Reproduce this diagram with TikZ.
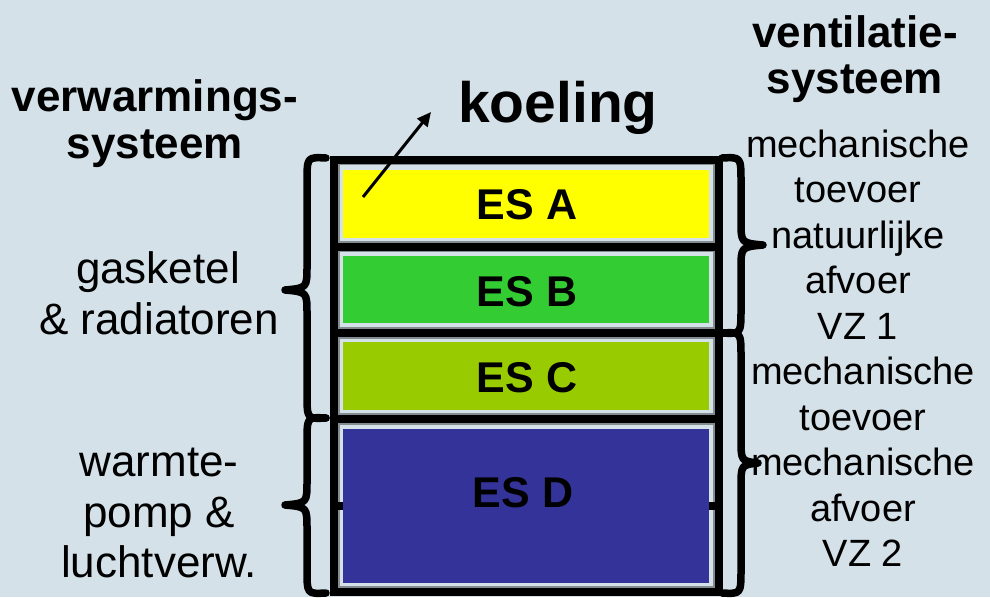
\documentclass[tikz,border=0pt]{standalone}
\usepackage{fontspec}
\setmainfont{Liberation Sans}
\usetikzlibrary{arrows.meta}
\definecolor{bgcol}{RGB}{213,225,232}
\definecolor{esa}{RGB}{255,255,0}
\definecolor{esb}{RGB}{51,204,51}
\definecolor{esc}{RGB}{153,204,0}
\definecolor{esd}{RGB}{51,51,153}
\definecolor{cellline}{RGB}{130,140,145}
\tikzset{
  head/.style={font=\fontsize{44}{48}\selectfont\bfseries, anchor=base, inner sep=0pt},
  lefttxt/.style={font=\fontsize{44}{50}\selectfont, anchor=base, inner sep=0pt},
  righttxt/.style={font=\fontsize{38}{45}\selectfont, anchor=base, inner sep=0pt},
  eslabel/.style={font=\fontsize{43}{46}\selectfont\bfseries, inner sep=0pt},
  cellbox/.style={draw=cellline, line width=1.2pt},
  frame/.style={line width=8pt},
  bracestyle/.style={line width=7.5pt, line cap=round, line join=round},
}
\begin{document}
\begin{tikzpicture}[x=1pt,y=-1pt]
\fill[bgcol] (0,0) rectangle (990,597);
\useasboundingbox (0,0) rectangle (990,597);

% cells (light margin with gray outline)
\draw[cellbox] (339,164) rectangle (714,242);
\draw[cellbox] (339,251) rectangle (714,328);
\draw[cellbox] (339,338) rectangle (714,414);
\draw[cellbox] (339,424) rectangle (714,587);

% frame and dividers
\draw[frame] (334,160) rectangle (719,592);
\draw[frame] (330,247) -- (723,247);
\draw[frame] (330,333) -- (723,333);
\draw[frame] (330,419) -- (723,419);
\draw[frame] (330,506) -- (723,506);

% coloured fills
\path[fill=esa] (343,170) rectangle (709,238);
\path[fill=esb] (343,256) rectangle (709,323);
\path[fill=esc] (343,342) rectangle (709,410);
\path[fill=esd] (343,429) rectangle (709,583);

\node[eslabel] (esA) at (527,205) {ES A};
\node[eslabel] (esB) at (527,292) {ES B};
\node[eslabel] (esC) at (527,378) {ES C};
\node[eslabel] (esD) at (523,493) {ES D};

% headers
\node[head] (h1) at (155,111) {verwarmings-};
\node[head] (h2) at (155,158) {systeem};
\node[head] (v1) at (855,47) {ventilatie-};
\node[head] (v2) at (855,93) {systeem};
\node[font=\fontsize{57}{60}\selectfont\bfseries, anchor=base, inner sep=0pt] (koel) at (558,122) {koeling};

% koeling arrow
\coordinate (ks) at (363,197);
\coordinate (ke) at (431,112);
\draw[line width=3pt, -{Triangle[length=14pt,width=13pt]}] (ks) -- (ke);

% left texts
\node[lefttxt] (l1) at (158,283) {gasketel};
\node[lefttxt] (l2) at (159,334) {\& radiatoren};
\node[lefttxt] (l3) at (159,476) {warmte-};
\node[lefttxt] (l4) at (159,527) {pomp \&};
\node[lefttxt] (l5) at (159,577) {luchtverw.};

% right texts
\node[righttxt] (r1) at (858,157) {mechanische};
\node[righttxt] (r2) at (858,202.5) {toevoer};
\node[righttxt] (r3) at (858,248) {natuurlijke};
\node[righttxt] (r4) at (858,293.5) {afvoer};
\node[righttxt] (r5) at (858,339) {VZ 1};
\node[righttxt] (r6) at (863,384.5) {mechanische};
\node[righttxt] (r7) at (863,430) {toevoer};
\node[righttxt] (r8) at (863,475.5) {mechanische};
\node[righttxt] (r9) at (863,521) {afvoer};
\node[righttxt] (r10) at (863,566.5) {VZ 2};

% left braces
\draw[bracestyle] (326,158) .. controls (307,157) .. (307,182) -- (307,266)
  .. controls (307,288) .. (285,290) .. controls (307,292) .. (307,314)
  -- (307,394) .. controls (307,419) .. (326,418);
\draw[bracestyle] (326,418) .. controls (307,417) .. (307,442) -- (307,481)
  .. controls (307,503) .. (285,505) .. controls (307,507) .. (307,529)
  -- (307,570) .. controls (307,594) .. (326,593);

% right braces
\draw[bracestyle] (722,158) .. controls (741,157) .. (741,182) -- (741,221)
  .. controls (741,243) .. (763,245) .. controls (741,247) .. (741,269)
  -- (741,309) .. controls (741,334) .. (722,333);
\draw[bracestyle] (722,333) .. controls (741,332) .. (741,357) -- (741,439)
  .. controls (741,461) .. (758,463) .. controls (741,465) .. (741,487)
  -- (741,569) .. controls (741,594) .. (722,593);
\end{tikzpicture}
\end{document}
